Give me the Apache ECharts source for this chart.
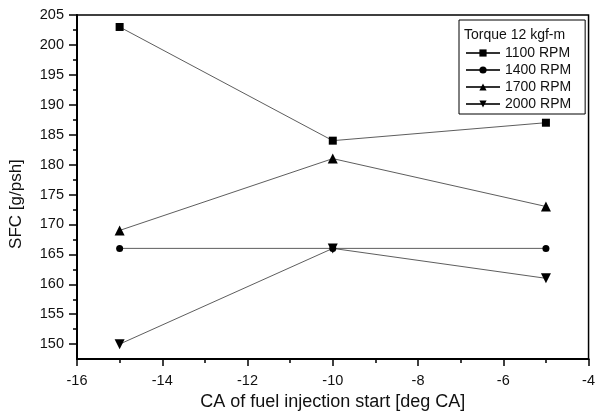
<!DOCTYPE html>
<html>
<head>
<meta charset="utf-8">
<script src="https://cdn.jsdelivr.net/npm/echarts@6/dist/echarts.min.js"></script>
<style>
  html, body { margin: 0; padding: 0; background: #fff; }
  #chart { width: 598px; height: 416px; }
</style>
</head>
<body>
<div id="chart"></div>
<script>
// Injection timing (deg CA) and specific fuel consumption per engine speed
const injectionStart = [-15, -10, -5];
const sfc1100 = [203, 184, 187];
const sfc1400 = [166, 166, 166];
const sfc1700 = [169, 181, 173];
const sfc2000 = [150, 166, 161];
const seriesNames = ['1100 RPM', '1400 RPM', '1700 RPM', '2000 RPM'];
const yMajorTicks = [150, 155, 160, 165, 170, 175, 180, 185, 190, 195, 200, 205];
const yMinorTicks = [152.5, 157.5, 162.5, 167.5, 172.5, 177.5, 182.5, 187.5, 192.5, 197.5, 202.5];
const legendTitle = 'Torque 12 kgf-m';

const FONT = 'Liberation Sans, Arial, sans-serif';
const chart = echarts.init(document.getElementById('chart'), null, { renderer: 'canvas' });

function pairs(vals) {
  return injectionStart.map((x, i) => [x, vals[i]]);
}

const symbols = ['rect', 'circle', 'triangle', 'path://M0,0 L10,0 L5,9 Z'];
const sizes = [8, 7, 10, 10];
const allVals = [sfc1100, sfc1400, sfc1700, sfc2000];

const series = allVals.map((vals, i) => ({
  name: seriesNames[i],
  type: 'line',
  data: pairs(vals),
  symbol: symbols[i],
  symbolSize: sizes[i],
  showAllSymbol: true,
  itemStyle: { color: '#000' },
  lineStyle: { color: '#333', width: 0.8 },
  emphasis: { disabled: true },
  z: 3
}));

const yRange = { min: 147.5, max: 205 };

chart.setOption({
  animation: false,
  backgroundColor: '#fff',
  grid: {
    left: 75, top: 15, right: 6, bottom: 52,
    show: true, borderColor: '#000', borderWidth: 1.5
  },
  xAxis: {
    type: 'value',
    min: -16, max: -4, interval: 2,
    name: 'CA of fuel injection start [deg CA]',
    nameLocation: 'middle',
    nameGap: 33,
    nameTextStyle: { fontFamily: FONT, fontSize: 18, color: '#111' },
    axisLine: { show: true, onZero: false, lineStyle: { color: '#000', width: 2 } },
    axisTick: { show: true, inside: false, length: 7, lineStyle: { color: '#000', width: 1.5 } },
    minorTick: { show: true, splitNumber: 2, length: 4, lineStyle: { color: '#000', width: 1.5 } },
    axisLabel: { fontFamily: FONT, fontSize: 14.5, color: '#111', margin: 14 },
    splitLine: { show: false }
  },
  yAxis: [
    {
      type: 'value',
      min: yRange.min, max: yRange.max,
      name: 'SFC [g/psh]',
      nameLocation: 'middle',
      nameGap: 52,
      nameTextStyle: { fontFamily: FONT, fontSize: 17, color: '#111', padding: [0, 0, 0, -34] },
      axisLine: { show: true, onZero: false, lineStyle: { color: '#000', width: 2 } },
      axisTick: { show: true, length: 8, customValues: yMajorTicks, lineStyle: { color: '#000', width: 1.5 } },
      axisLabel: { fontFamily: FONT, fontSize: 14.5, color: '#111', margin: 13, customValues: yMajorTicks },
      splitLine: { show: false }
    },
    {
      type: 'value',
      position: 'left',
      min: yRange.min, max: yRange.max,
      axisLine: { show: false },
      axisTick: { show: true, length: 4, customValues: yMinorTicks, lineStyle: { color: '#000', width: 1.5 } },
      axisLabel: { show: false, customValues: yMinorTicks },
      splitLine: { show: false }
    }
  ],
  legend: {
    data: seriesNames,
    orient: 'vertical',
    left: 459, top: 20,
    padding: [26, 14, 3, 6],
    itemGap: 3,
    itemWidth: 34,
    itemHeight: 9,
    itemStyle: { borderWidth: 0 },
    borderColor: '#000',
    borderWidth: 1,
    backgroundColor: '#fff',
    textStyle: { fontFamily: FONT, fontSize: 14, lineHeight: 14, color: '#111' },
    selectedMode: false
  },
  graphic: [{
    type: 'text',
    left: 464, top: 28,
    z: 100,
    style: { text: legendTitle, font: '14px ' + FONT, fill: '#111' }
  }],
  series
});
</script>
</body>
</html>
